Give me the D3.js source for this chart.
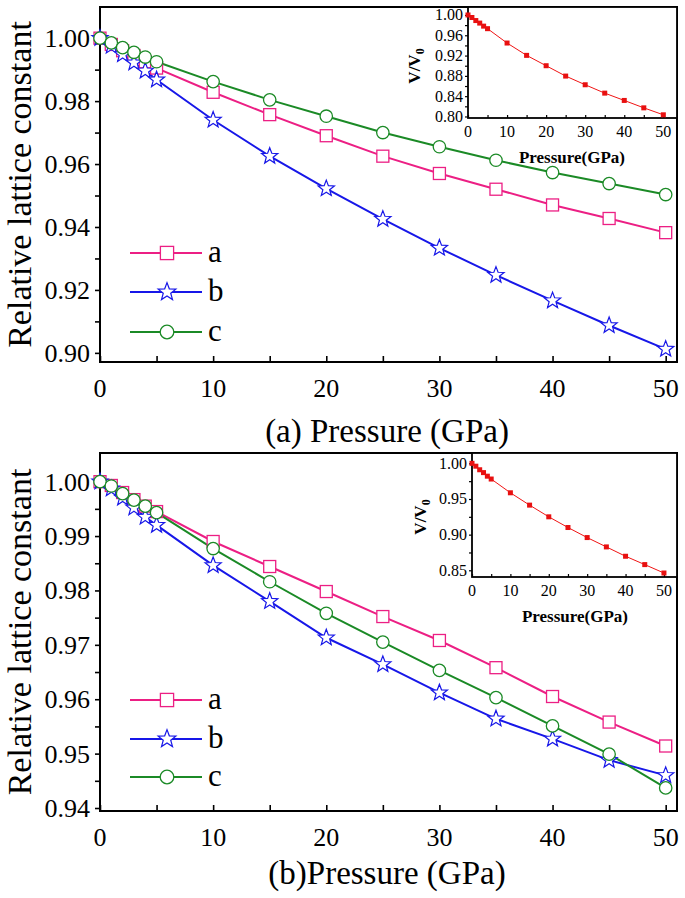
<!DOCTYPE html>
<html><head><meta charset="utf-8">
<script src="https://cdn.jsdelivr.net/npm/d3@7"></script>
<style>body{margin:0;background:#fff}svg{display:block}text{font-family:"Liberation Serif","Times New Roman",serif}</style>
</head><body><svg id="c" width="685" height="898"></svg>
<script>
const pressure = [0,1,2,3,4,5,10,15,20,25,30,35,40,45,50];
const topA = [1.000,0.998,0.996,0.9945,0.9925,0.9905,0.9828,0.9757,0.9690,0.9625,0.9570,0.9520,0.9470,0.9427,0.9382];
const topB = [1.000,0.9975,0.9948,0.9922,0.9896,0.9868,0.9740,0.9625,0.9522,0.9425,0.9333,0.9247,0.9166,0.9087,0.9012];
const topC = [1.000,0.9985,0.997,0.9955,0.994,0.9925,0.9862,0.9804,0.9752,0.9700,0.9655,0.9612,0.9573,0.9538,0.9503];
const topV = [1.000,0.995,0.989,0.984,0.978,0.973,0.9447,0.9204,0.900,0.8796,0.8625,0.846,0.8316,0.817,0.8033];
const botA = [1.000,0.9993,0.998,0.9967,0.9955,0.9945,0.9890,0.9844,0.9798,0.9752,0.9708,0.9658,0.9605,0.9558,0.9514];
const botB = [1.000,0.9987,0.9970,0.9952,0.9935,0.9920,0.9846,0.9780,0.9713,0.9664,0.9612,0.9564,0.9527,0.9488,0.9460];
const botC = [1.000,0.9992,0.9978,0.9966,0.9955,0.9943,0.9877,0.9816,0.9758,0.9705,0.9653,0.9603,0.9551,0.9499,0.9437];
const botV = [1.000,0.996,0.991,0.987,0.982,0.978,0.9587,0.9414,0.925,0.910,0.8959,0.8828,0.8697,0.858,0.8462];
const seriesNames = ["a","b","c"];
const xTicks = [0,10,20,30,40,50];
const topYTicks = [0.90,0.92,0.94,0.96,0.98,1.00];
const botYTicks = [0.94,0.95,0.96,0.97,0.98,0.99,1.00];
const inset1YTicks = [0.80,0.84,0.88,0.92,0.96,1.00];
const inset2YTicks = [0.85,0.90,0.95,1.00];

const colors = {a:"#ec1f84", b:"#1717e8", c:"#1b8a26"};
const svg = d3.select("#c");

function starPath(R){
  const r = R*0.42, pts=[];
  for(let i=0;i<10;i++){const ang=-Math.PI/2+i*Math.PI/5;const rr=i%2?r:R;pts.push([rr*Math.cos(ang),rr*Math.sin(ang)]);}
  return "M"+pts.map(p=>p[0].toFixed(2)+","+p[1].toFixed(2)).join("L")+"Z";
}
function marker(g,name,x,y,legend){
  const s = legend?1.1:1;
  if(name==="a"){g.append("rect").attr("x",x-6*s).attr("y",y-6*s).attr("width",12*s).attr("height",12*s).attr("fill","#fff").attr("stroke",colors.a).attr("stroke-width",1.3);}
  else if(name==="b"){g.append("path").attr("d",starPath(8.5*s)).attr("transform",`translate(${x},${y})`).attr("fill","#fff").attr("stroke",colors.b).attr("stroke-width",1.2);}
  else {g.append("circle").attr("cx",x).attr("cy",y).attr("r",6.2*s).attr("fill","#fff").attr("stroke",colors.c).attr("stroke-width",1.3);}
}

function panel(cfg){
  const g = svg.append("g");
  const x = d3.scaleLinear().domain([0,51]).range([cfg.left,cfg.right]);
  const y = d3.scaleLinear().domain(cfg.yDomain).range([cfg.bottom,cfg.top]);
  // x axis (ticks inward)
  const xa = g.append("g").attr("transform",`translate(0,${cfg.bottom})`)
    .call(d3.axisBottom(x).tickValues(d3.range(0,51,5)).tickSize(-6).tickFormat(""));
  xa.select(".domain").remove();
  xa.selectAll("line").attr("stroke","#000").attr("stroke-width",1.6);
  xTicks.forEach(v=>g.append("text").attr("x",x(v)).attr("y",cfg.bottom+35).attr("text-anchor","middle").attr("font-size",26).text(v));
  // y axis (ticks outward)
  const ya = g.append("g").attr("transform",`translate(${cfg.left},0)`)
    .call(d3.axisLeft(y).tickValues(cfg.yMinor).tickSize(5).tickFormat(""));
  ya.select(".domain").remove();
  ya.selectAll("line").attr("stroke","#000").attr("stroke-width",1.6);
  cfg.yTicks.forEach(v=>g.append("text").attr("x",cfg.left-10).attr("y",y(v)+9).attr("text-anchor","end").attr("font-size",26).text(v.toFixed(2)));
  // frame
  g.append("rect").attr("x",cfg.left).attr("y",cfg.top).attr("width",cfg.right-cfg.left).attr("height",cfg.bottom-cfg.top).attr("fill","none").attr("stroke","#000").attr("stroke-width",2);
  // y label
  g.append("text").attr("transform",`translate(31,${(cfg.top+cfg.bottom)/2}) rotate(-90)`).attr("text-anchor","middle").attr("font-size",34).text("Relative lattice constant");
  // x title
  g.append("text").attr("x",387).attr("y",cfg.titleY+11).attr("text-anchor","middle").attr("font-size",33).text(cfg.title);
  // series
  const line = d3.line().x((d,i)=>x(pressure[i])).y(d=>y(d));
  cfg.series.forEach((vals,k)=>{
    const name = seriesNames[k];
    g.append("path").attr("d",line(vals)).attr("fill","none").attr("stroke",colors[name]).attr("stroke-width",2);
  });
  cfg.series.forEach((vals,k)=>{
    const name = seriesNames[k];
    vals.forEach((v,i)=>marker(g,name,x(pressure[i]),y(v),false));
  });
  // legend
  seriesNames.forEach((name,k)=>{
    const ly = cfg.legendY[k];
    g.append("line").attr("x1",130).attr("x2",202).attr("y1",ly).attr("y2",ly).attr("stroke",colors[name]).attr("stroke-width",2);
    marker(g,name,167,ly,true);
    g.append("text").attr("x",208).attr("y",ly+9).attr("font-size",31).text(name);
  });
  // inset
  const ins = cfg.inset;
  const ix = d3.scaleLinear().domain([0,ins.xMax]).range([ins.left,cfg.right]);
  const iy = d3.scaleLinear().domain(ins.yDomain).range([ins.bottom,cfg.top]);
  g.append("rect").attr("x",ins.left).attr("y",cfg.top).attr("width",cfg.right-ins.left).attr("height",ins.bottom-cfg.top).attr("fill","#fff").attr("stroke","#000").attr("stroke-width",1.8);
  const ixa = g.append("g").attr("transform",`translate(0,${ins.bottom})`)
    .call(d3.axisBottom(ix).tickValues(d3.range(0,51,5)).tickSize(-3).tickFormat(""));
  ixa.select(".domain").remove(); ixa.selectAll("line").attr("stroke","#000").attr("stroke-width",1.2);
  xTicks.forEach(v=>g.append("text").attr("x",ix(v)).attr("y",ins.bottom+19).attr("text-anchor","middle").attr("font-size",16).text(v));
  const iya = g.append("g").attr("transform",`translate(${ins.left},0)`)
    .call(d3.axisLeft(iy).tickValues(ins.yMinor).tickSize(3).tickFormat(""));
  iya.select(".domain").remove(); iya.selectAll("line").attr("stroke","#000").attr("stroke-width",1.2);
  ins.yTicks.forEach(v=>g.append("text").attr("x",ins.left-5).attr("y",iy(v)+5.5).attr("text-anchor","end").attr("font-size",16).text(v.toFixed(2)));
  g.append("text").attr("x",ins.titleX).attr("y",ins.bottom+45).attr("text-anchor","middle").attr("font-size",17).attr("font-weight","bold").text("Pressure(GPa)");
  const vt = g.append("text").attr("transform",`translate(${ins.vX},${ins.vY}) rotate(-90)`).attr("text-anchor","middle").attr("font-size",17).attr("font-weight","bold");
  vt.append("tspan").text("V/V");
  vt.append("tspan").attr("font-size",12).attr("dy",4).text("0");
  const il = d3.line().x((d,i)=>ix(pressure[i])).y(d=>iy(d));
  g.append("path").attr("d",il(ins.values)).attr("fill","none").attr("stroke","#f01414").attr("stroke-width",1);
  ins.values.forEach((v,i)=>g.append("rect").attr("x",ix(pressure[i])-2.5).attr("y",iy(v)-2.5).attr("width",5).attr("height",5).attr("fill","#e81010"));
}

panel({left:100,right:677,top:7,bottom:362,yDomain:[0.8971,1.0099],yTicks:topYTicks,
  yMinor:d3.range(0,13).map(i=>+(0.90+i*0.01).toFixed(2)).filter(v=>v<=1.0),
  title:"(a) Pressure (GPa)",titleY:431,series:[topA,topB,topC],legendY:[253,292,332],
  inset:{left:468,bottom:118,xMax:53.5,yDomain:[0.797,1.0157],yTicks:inset1YTicks,
    yMinor:d3.range(0,11).map(i=>+(0.80+i*0.02).toFixed(2)),values:topV,titleX:572,vX:420,vY:66}});
panel({left:100,right:677,top:453,bottom:811,yDomain:[0.93945,1.00527],yTicks:botYTicks,
  yMinor:d3.range(0,13).map(i=>+(0.94+i*0.005).toFixed(3)),
  title:"(b)Pressure (GPa)",titleY:873,series:[botA,botB,botC],legendY:[700,739,777],
  inset:{left:472,bottom:577,xMax:53.4,yDomain:[0.8406,1.0145],yTicks:inset2YTicks,
    yMinor:d3.range(0,7).map(i=>+(0.85+i*0.025).toFixed(3)),values:botV,titleX:575,vX:426,vY:517}});
</script></body></html>
